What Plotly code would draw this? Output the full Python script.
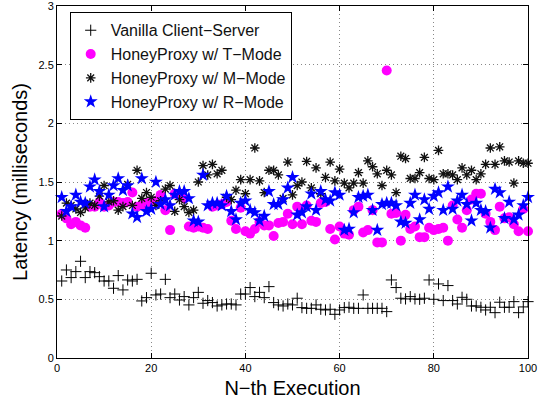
import plotly.graph_objects as go

x_exec = list(range(1, 101))

vanilla = [0.656, 0.75, 0.685, 0.736, 0.824, 0.685, 0.736, 0.727, 0.693, 0.656,
           0.656, 0.594, 0.702, 0.58, 0.665, 0.656, 0.67, 0.486, 0.514, 0.722,
           0.537, 0.545, 0.67, 0.514, 0.545, 0.494, 0.523, 0.452, 0.514, 0.559,
           0.466, 0.489, 0.472, 0.443, 0.452, 0.46, 0.46, 0.452, 0.545, 0.545,
           0.6, 0.523, 0.559, 0.514, 0.608, 0.472, 0.452, 0.443, 0.46, 0.452,
           0.509, 0.429, 0.423, 0.423, 0.452, 0.415, 0.409, 0.415, 0.372, 0.409,
           0.429, 0.432, 0.423, 0.423, 0.537, 0.423, 0.423, 0.423, 0.423, 0.395,
           0.665, 0.6, 0.509, 0.503, 0.523, 0.503, 0.5, 0.509, 0.665, 0.5,
           0.631, 0.489, 0.617, 0.489, 0.46, 0.517, 0.5, 0.443, 0.443, 0.432,
           0.409, 0.432, 0.386, 0.475, 0.432, 0.432, 0.48, 0.386, 0.435, 0.48]

t_mode = [1.23, 1.19, 1.14, 1.16, 1.13, 1.11, 1.29, 1.29, 1.33, 1.29,
          1.30, 1.33, 1.33, 1.32, 1.33, 1.41, 1.29, 1.30, 1.32, 1.33,
          1.34, 1.39, 1.26, 1.09, 1.40, 1.39, 1.36, 1.12, 1.11, 1.12,
          1.11, 1.10, 1.29, 1.30, 1.31, 1.33, 1.17, 1.10, 1.28, 1.08,
          1.06, 1.10, 1.16, 1.13, 1.13, 1.04, 1.15, 1.16, 1.23, 1.14,
          1.29, 1.14, 1.30, 1.17, 1.16, 1.32, 1.33, 1.10, 1.01, 1.12,
          1.06, 1.05, 1.26, 1.29, 1.07, 1.09, 1.26, 0.985, 0.985, 2.45,
          1.23, 1.235, 1.00, 1.22, 1.10, 1.12, 1.03, 1.03, 1.11, 1.09,
          1.10, 1.11, 1.00, 1.30, 1.18, 1.11, 1.26, 1.35, 1.40, 1.40,
          1.23, 1.16, 1.09, 1.29, 1.19, 1.20, 1.14, 1.08, 1.27, 1.08]

m_mode = [1.21, 1.32, 1.30, 1.27, 1.24, 1.28, 1.32, 1.30, 1.38, 1.47,
          1.33, 1.34, 1.26, 1.29, 1.48, 1.30, 1.60, 1.36, 1.41, 1.37,
          1.30, 1.34, 1.44, 1.47, 1.25, 1.35, 1.29, 1.24, 1.26, 1.50,
          1.64, 1.56, 1.65, 1.57, 1.60, 1.37, 1.35, 1.43, 1.52, 1.40,
          1.52, 1.79, 1.51, 1.41, 1.60, 1.60, 1.56, 1.36, 1.67, 1.39,
          1.47, 1.50, 1.675, 1.45, 1.62, 1.40, 1.54, 1.67, 1.51, 1.61,
          1.49, 1.45, 1.49, 1.58, 1.49, 1.68, 1.63, 1.57, 1.47, 1.60,
          1.56, 1.41, 1.72, 1.70, 1.53, 1.53, 1.58, 1.71, 1.53, 1.52,
          1.77, 1.57, 1.57, 1.56, 1.52, 1.62, 1.56, 1.60, 1.52, 1.57,
          1.65, 1.79, 1.65, 1.80, 1.68, 1.67, 1.49, 1.68, 1.66, 1.66]

r_mode = [1.37, 1.25, 1.29, 1.39, 1.33, 1.32, 1.46, 1.52, 1.42, 1.29,
          1.39, 1.47, 1.53, 1.43, 1.47, 1.23, 1.20, 1.53, 1.25, 1.27,
          1.50, 1.31, 1.35, 1.30, 1.39, 1.42, 1.42, 1.36, 1.17, 1.16,
          1.56, 1.30, 1.32, 1.32, 1.30, 1.38, 1.25, 1.18, 1.32, 1.34,
          1.26, 1.24, 1.17, 1.21, 1.42, 1.31, 1.31, 1.35, 1.45, 1.54,
          1.22, 1.24, 1.29, 1.40, 1.26, 1.42, 1.35, 1.34, 1.41, 1.39,
          1.09, 1.10, 1.24, 1.37, 1.38, 1.39, 1.26, 1.09, 1.31, 1.32,
          1.32, 1.30, 1.16, 1.15, 1.32, 1.39, 1.18, 1.35, 1.27, 1.38,
          1.41, 1.26, 1.46, 1.27, 1.34, 1.39, 1.31, 1.17, 1.32, 1.26,
          1.25, 1.11, 1.44, 1.41, 1.19, 1.33, 1.18, 1.22, 1.30, 1.37]

x_ticks = [0, 20, 40, 60, 80, 100]
y_ticks = [0, 0.5, 1, 1.5, 2, 2.5, 3]
y_tick_labels = ["0", "0.5", "1", "1.5", "2", "2.5", "3"]

fig = go.Figure()
fig.add_trace(go.Scatter(
    x=x_exec, y=vanilla, mode="markers", name="Vanilla Client\u2212Server",
    marker=dict(symbol="cross-thin-open", size=8, color="black",
                line=dict(color="black", width=1)),
    cliponaxis=False))
fig.add_trace(go.Scatter(
    x=x_exec, y=t_mode, mode="markers", name="HoneyProxy w/ T\u2212Mode",
    marker=dict(symbol="circle", size=10, color="#ff00ff",
                line=dict(width=0)),
    cliponaxis=False))
fig.add_trace(go.Scatter(
    x=x_exec, y=m_mode, mode="markers", name="HoneyProxy w/ M\u2212Mode",
    marker=dict(symbol="asterisk-open", size=8, color="#111111",
                line=dict(color="#111111", width=1.3)),
    cliponaxis=False))
fig.add_trace(go.Scatter(
    x=x_exec, y=r_mode, mode="markers", name="HoneyProxy w/ R\u2212Mode",
    marker=dict(symbol="star", size=10.5, color="#0000ff",
                line=dict(width=0)),
    cliponaxis=False))

axis_common = dict(
    showline=True, linecolor="black", linewidth=1, mirror="allticks",
    ticks="inside", ticklen=5, tickcolor="black",
    showgrid=True, gridcolor="#888888", griddash="1px,3px", gridwidth=1,
    zeroline=False, tickfont=dict(size=11, color="black"),
    ticklabeloverflow="allow",
)

fig.update_layout(
    width=544, height=399,
    margin=dict(l=57, r=16, t=6, b=41, autoexpand=False),
    paper_bgcolor="white", plot_bgcolor="white",
    font=dict(family="Liberation Sans, Arial, sans-serif", color="black"),
    xaxis=dict(range=[0, 100], tickvals=x_ticks, automargin=False,
               title=dict(text="N\u2212th Execution", font=dict(size=20)),
               **axis_common),
    yaxis=dict(range=[-0.0005, 3.0005], tickvals=y_ticks, ticktext=y_tick_labels,
               automargin=True,
               title=dict(text="Latency (milliseconds)", font=dict(size=20), standoff=5),
               **axis_common),
    legend=dict(x=0.027, y=0.982, xanchor="left", yanchor="top",
                bgcolor="white", bordercolor="black", borderwidth=1,
                font=dict(size=16, color="#111111"), itemwidth=30,
                tracegroupgap=0),
    showlegend=True,
)

fig.write_html("out.html", config={"displayModeBar": False},
               post_script="document.body.style.margin='0';document.body.style.padding='0';")
